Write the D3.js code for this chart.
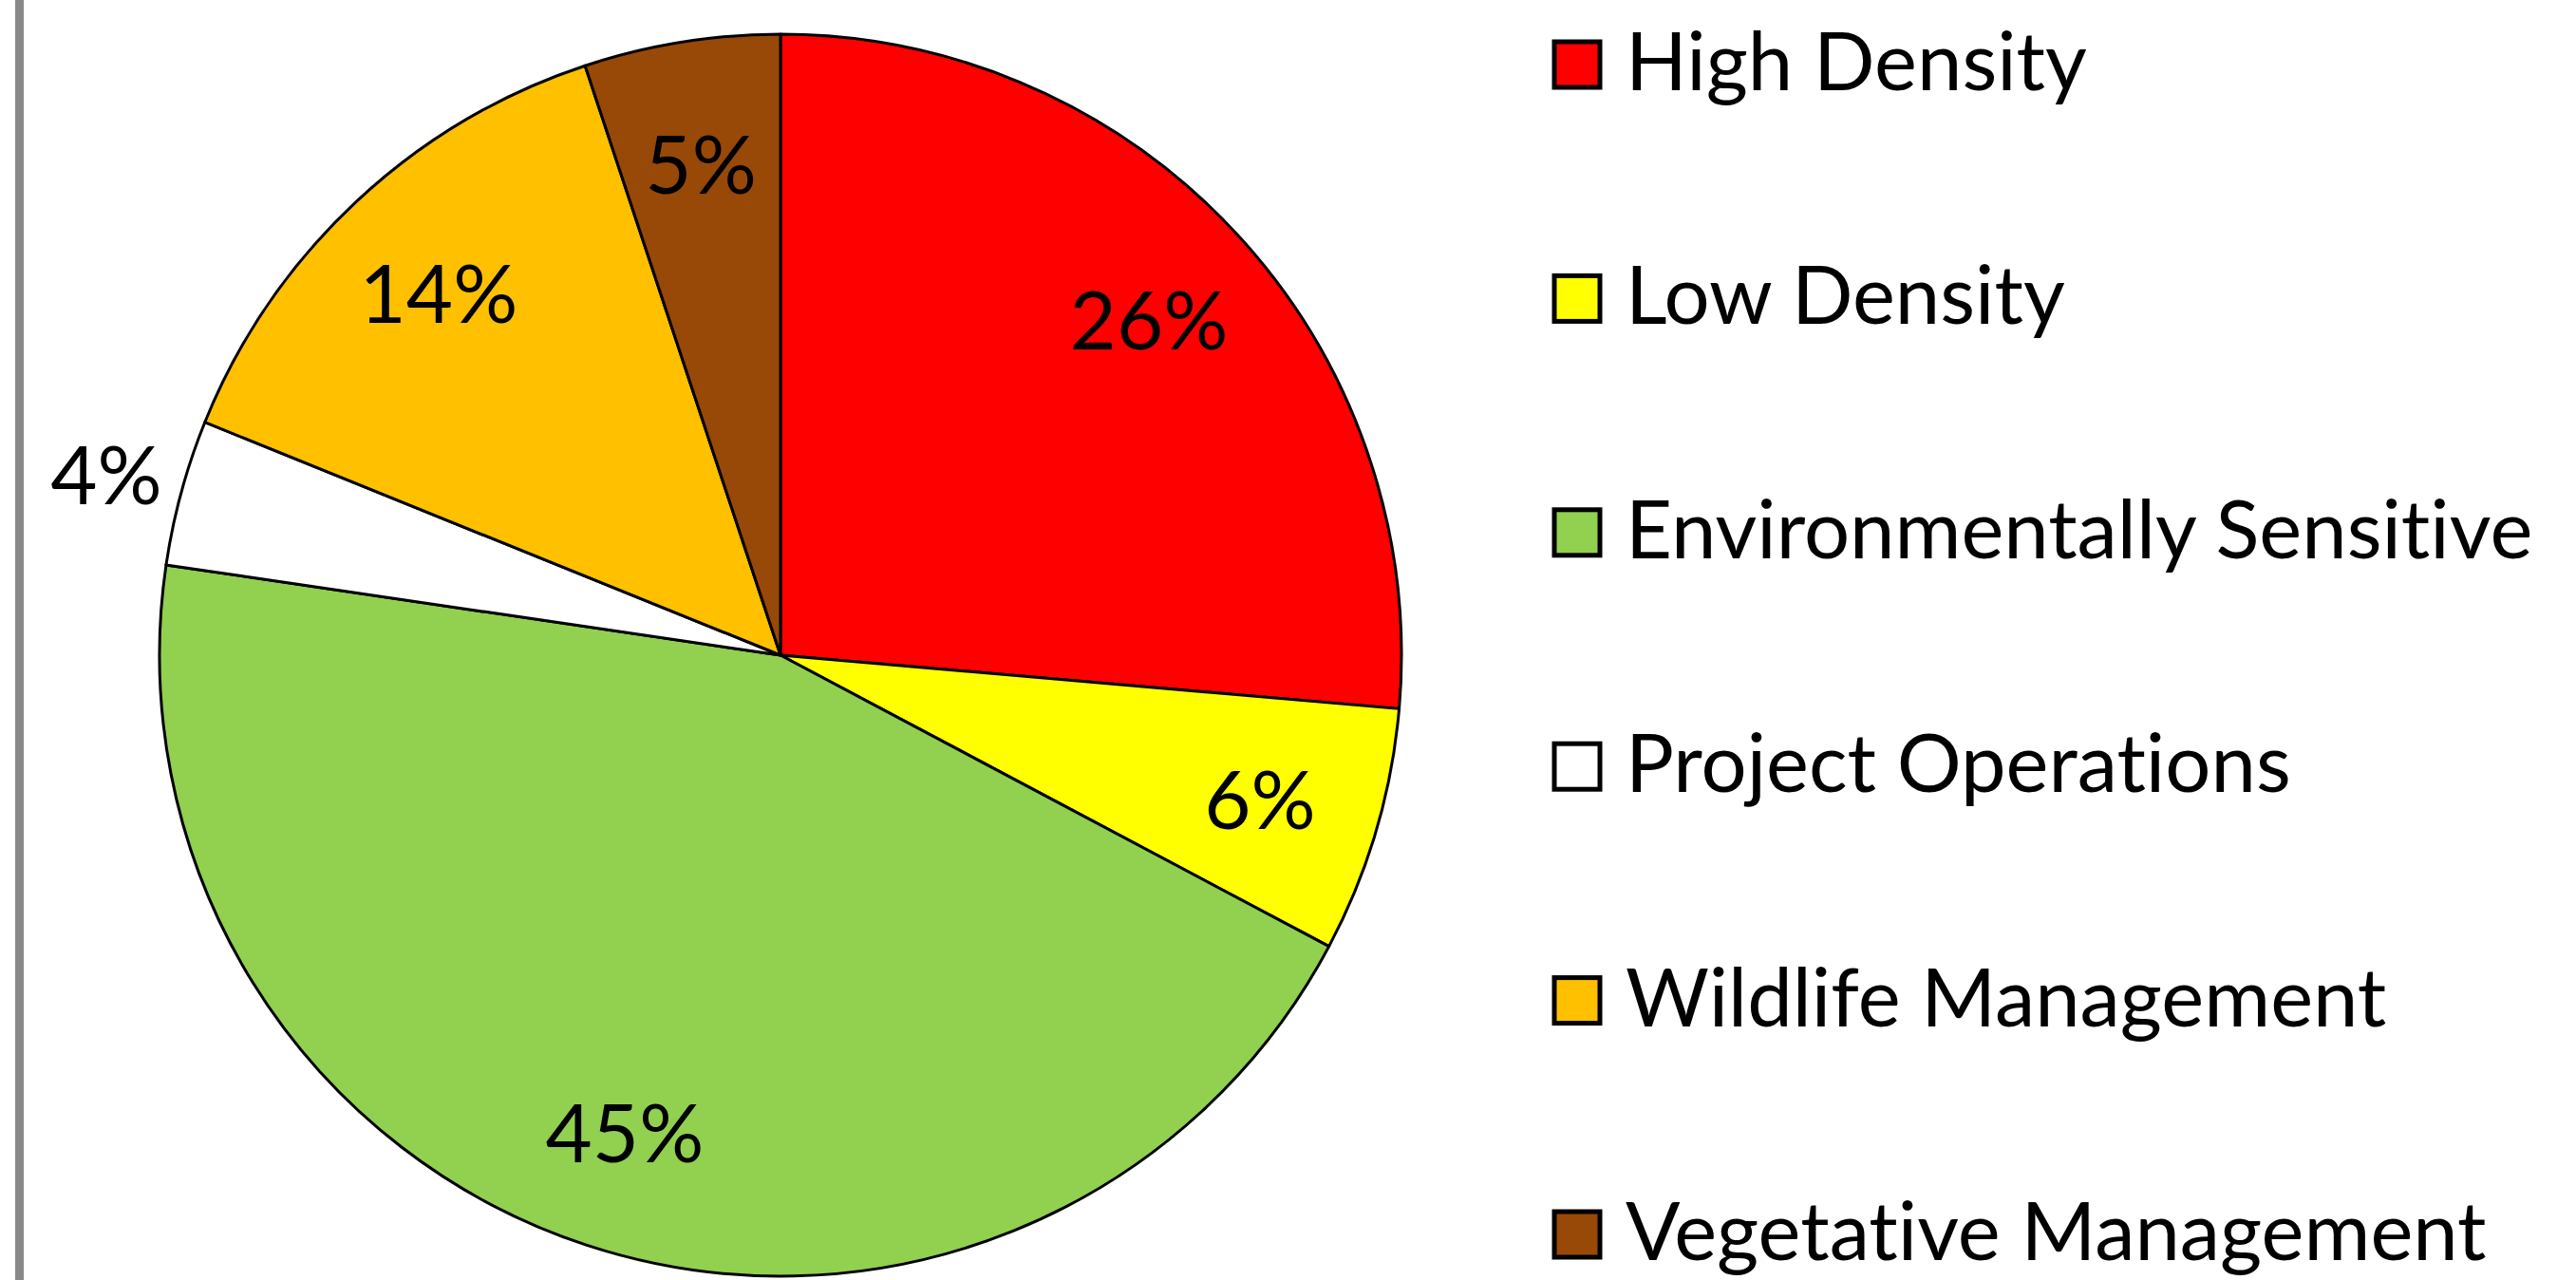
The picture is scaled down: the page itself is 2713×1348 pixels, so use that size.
<!DOCTYPE html>
<html>
<head>
<meta charset="utf-8">
<script src="https://cdn.jsdelivr.net/npm/d3@7"></script>
<style>
    body { margin: 0; background: #fff; }
    svg { display: block; }
    text { font-family: Lato, "Open Sans", sans-serif; fill: #000; font-variant-ligatures: none; }
</style>
</head>
<body>
<div id="chart"></div>
<script>
const categories = [
    "High Density",
    "Low Density",
    "Environmentally Sensitive",
    "Project Operations",
    "Wildlife Management",
    "Vegetative Management"
];
// shares (percent)
const shares = [26.4, 6.4, 44.6, 3.8, 13.8, 5.1];
const sliceColors = ["#FF0000", "#FFFF00", "#92D050", "#FFFFFF", "#FFC000", "#984807"];

const WIDTH = 2713, HEIGHT = 1348;
const CENTER = {x: 822, y: 690};
const RADIUS = 654;
const FONT_SIZE = 85;

const svg = d3.select("#chart")
    .append("svg")
    .attr("width", WIDTH)
    .attr("height", HEIGHT);

// grey border line on the far left
svg.append("rect")
    .attr("x", 16)
    .attr("y", 0)
    .attr("width", 9)
    .attr("height", HEIGHT)
    .attr("fill", "#898989");

const total = d3.sum(shares);
const pie = d3.pie().sort(null).value(d => d.value);
const arcs = pie(categories.map((c, i) => ({name: c, value: shares[i]})));

const arc = d3.arc().innerRadius(0).outerRadius(RADIUS);
// inside labels sit at about 80% of the radius, small slices go outside
const labelArcIn = d3.arc().innerRadius(RADIUS * 0.805).outerRadius(RADIUS * 0.805);
const labelArcOut = d3.arc().innerRadius(RADIUS * 1.125).outerRadius(RADIUS * 1.125);

const g = svg.append("g")
    .attr("transform", "translate(" + CENTER.x + "," + CENTER.y + ")");

g.selectAll("path")
    .data(arcs)
    .enter()
    .append("path")
    .attr("d", arc)
    .attr("fill", (d, i) => sliceColors[i])
    .attr("stroke", "#000")
    .attr("stroke-width", 3)
    .attr("stroke-linejoin", "round");

g.selectAll("text.pct")
    .data(arcs)
    .enter()
    .append("text")
    .attr("class", "pct")
    .attr("transform", d => {
        const pct = d.value / total * 100;
        const c = (pct < 4.5 ? labelArcOut : labelArcIn).centroid(d);
        return "translate(" + c[0] + "," + c[1] + ")";
    })
    .attr("text-anchor", "middle")
    .attr("dy", "0.4em")
    .style("font-size", FONT_SIZE + "px")
    .text(d => Math.round(d.value / total * 100) + "%");

// legend
const legendY = d3.scalePoint()
    .domain(categories)
    .range([68, 1300]);

const legend = svg.append("g");
const item = legend.selectAll("g")
    .data(categories)
    .enter()
    .append("g")
    .attr("transform", d => "translate(0," + legendY(d) + ")");

item.append("rect")
    .attr("x", 1637)
    .attr("y", -24)
    .attr("width", 48)
    .attr("height", 48)
    .attr("fill", (d, i) => sliceColors[i])
    .attr("stroke", "#000")
    .attr("stroke-width", 5);

item.append("text")
    .attr("x", 1712)
    .attr("y", 27)
    .style("font-size", FONT_SIZE + "px")
    .text(d => d);
</script>
</body>
</html>
